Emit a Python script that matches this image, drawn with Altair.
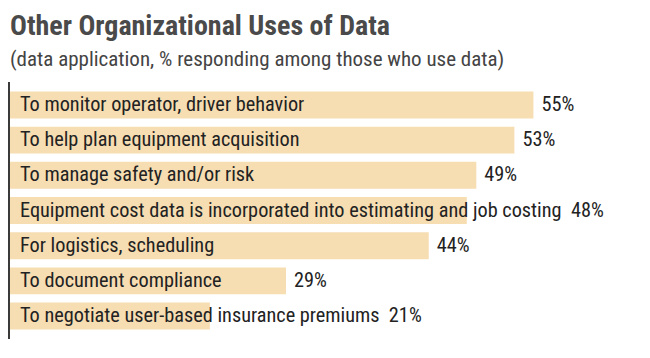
import altair as alt
import pandas as pd

categories = [
    "To monitor operator, driver behavior",
    "To help plan equipment acquisition",
    "To manage safety and/or risk",
    "Equipment cost data is incorporated into estimating and job costing",
    "For logistics, scheduling",
    "To document compliance",
    "To negotiate user-based insurance premiums",
]
values = [55, 53, 49, 48, 44, 29, 21]

FONT = "Roboto Condensed, Liberation Sans Narrow, DejaVu Sans Condensed, sans-serif"
NBSP2 = "\u00a0\u00a0"

df = pd.DataFrame({"category": categories, "value": values})
df["pct"] = df["value"].astype(str) + "%"
# approximate text length (in % units) to know if the label overflows its bar
df["overflow"] = df["category"].str.len() * 0.85 + 2 > df["value"]
df["label_text"] = [
    c + NBSP2 + p if o else c for c, p, o in zip(df["category"], df["pct"], df["overflow"])
]

W, H = 571, 257

y_enc = alt.Y(
    "category:N",
    sort=categories,
    axis=None,
    scale=alt.Scale(paddingInner=0.234, paddingOuter=0.27),
)
x_scale = alt.Scale(domain=[0, 60])

base = alt.Chart(df)

bars = base.mark_bar(color="#F6DDB2").encode(
    x=alt.X("value:Q", scale=x_scale, axis=None),
    y=y_enc,
)

labels = base.mark_text(
    align="left", baseline="middle", dx=10, font=FONT, fontSize=20.3, color="#222222"
).encode(
    x=alt.value(0),
    y=y_enc,
    text="label_text:N",
)

vals = base.transform_filter("!datum.overflow").mark_text(
    align="left", baseline="middle", dx=8, font=FONT, fontSize=20.3, color="#222222"
).encode(
    x=alt.X("value:Q", scale=x_scale),
    y=y_enc,
    text="pct:N",
)

axis_line = base.mark_rule(color="#3a3a3a", strokeWidth=2).encode(
    x=alt.value(-1.5),
    y=alt.value(0),
    y2=alt.value(H),
)

chart = (
    alt.layer(bars, labels, vals, axis_line)
    .properties(
        width=W,
        height=H,
        autosize=alt.AutoSizeParams(type="none"),
        padding={"left": 2, "top": 74, "right": 61, "bottom": 10},
        title=alt.TitleParams(
            text="Other Organizational Uses of Data",
            subtitle="(data application, % responding among those who use data)",
            anchor="start",
            frame="group",
            font=FONT,
            fontSize=28,
            fontWeight="bold",
            color="#4a4a4a",
            subtitleFont=FONT,
            subtitleFontSize=21,
            subtitleColor="#444444",
            subtitlePadding=8,
            offset=11,
        ),
    )
    .configure_view(stroke=None)
)

chart.save("out.html", embed_options={"renderer": "svg", "actions": False})
